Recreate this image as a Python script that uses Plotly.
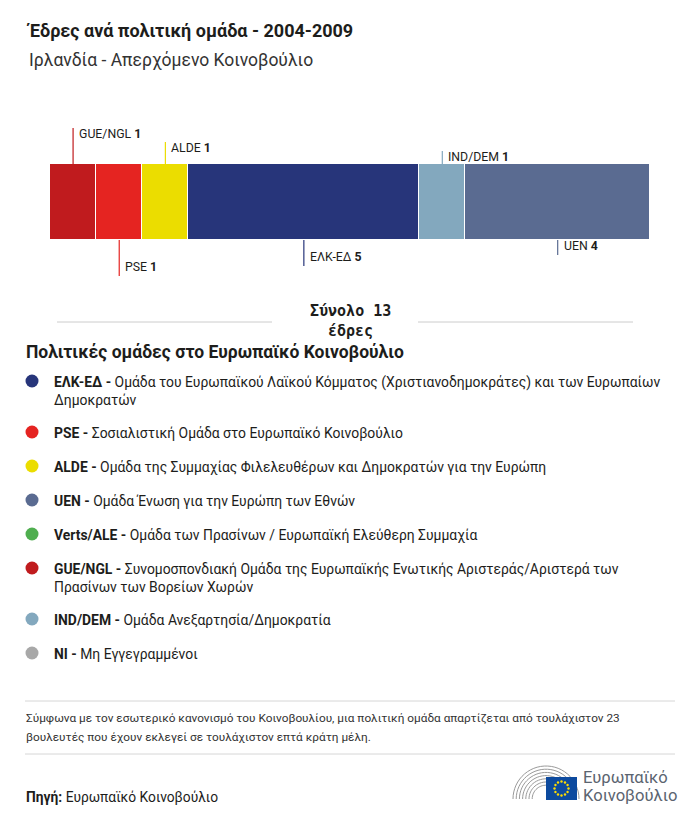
import numpy as np
import plotly.graph_objects as go

# ---------------- data ----------------
groups = ["GUE/NGL", "PSE", "ALDE", "ΕΛΚ-ΕΔ", "IND/DEM", "UEN"]
seats = [1, 1, 1, 5, 1, 4]
group_colors = ["#C01B1E", "#E52421", "#EBDD00", "#27357A", "#83A8BE", "#5A6B91"]

legend_codes = ["ΕΛΚ-ΕΔ", "PSE", "ALDE", "UEN", "Verts/ALE", "GUE/NGL", "IND/DEM", "NI"]
legend_desc = [
    "Ομάδα του Ευρωπαϊκού Λαϊκού Κόμματος (Χριστιανοδημοκράτες) και των Ευρωπαίων<br>Δημοκρατών",
    "Σοσιαλιστική Ομάδα στο Ευρωπαϊκό Κοινοβούλιο",
    "Ομάδα της Συμμαχίας Φιλελευθέρων και Δημοκρατών για την Ευρώπη",
    "Ομάδα Ένωση για την Ευρώπη των Εθνών",
    "Ομάδα των Πρασίνων / Ευρωπαϊκή Ελεύθερη Συμμαχία",
    "Συνομοσπονδιακή Ομάδα της Ευρωπαϊκής Ενωτικής Αριστεράς/Αριστερά των<br>Πρασίνων των Βορείων Χωρών",
    "Ομάδα Ανεξαρτησία/Δημοκρατία",
    "Μη Εγγεγραμμένοι",
]
legend_colors = ["#27357A", "#E52421", "#EBDD00", "#5A6B91", "#4FAE4F", "#C01B1E", "#83A8BE", "#A8A8A8"]

title = "Έδρες ανά πολιτική ομάδα - 2004-2009"
subtitle = "Ιρλανδία - Απερχόμενο Κοινοβούλιο"
total_label = "Σύνολο"
total_unit = "έδρες"
legend_title = "Πολιτικές ομάδες στο Ευρωπαϊκό Κοινοβούλιο"
note_lines = ["Σύμφωνα με τον εσωτερικό κανονισμό του Κοινοβουλίου, μια πολιτική ομάδα απαρτίζεται από τουλάχιστον 23",
              "βουλευτές που έχουν εκλεγεί σε τουλάχιστον επτά κράτη μέλη."]
source_label = "Πηγή:"
source_text = "Ευρωπαϊκό Κοινοβούλιο"
logo_text = ["Ευρωπαϊκό", "Κοινοβούλιο"]

# ---------------- style ----------------
W, H = 700, 822
FONT = "Roboto"
DARK = "#1d1d1b"
# leader line: side (+1 above, -1 below) and length in px
label_side = [1, -1, 1, -1, 1, -1]
label_len = [36, 36, 22, 26, 13, 15]
BAR_TOP, BAR_BOT = 164, 240

fig = go.Figure()

total = int(np.sum(seats))
cum = np.cumsum([0] + seats)
mids = (cum[:-1] + cum[1:]) / 2.0

for g, s, c in zip(groups, seats, group_colors):
    fig.add_trace(go.Bar(
        x=[s], y=[0], orientation="h", name=g, width=1,
        marker=dict(color=c, line=dict(color="white", width=1)),
        xaxis="x", yaxis="y", hoverinfo="skip", showlegend=False,
    ))

shapes = []
annotations = []

# leader lines and labels
for g, s, c, m, side, ln in zip(groups, seats, group_colors, mids, label_side, label_len):
    if side > 0:
        y0, y1 = BAR_TOP, BAR_TOP - ln
        ty = y1 + 6
    else:
        y0, y1 = BAR_BOT, BAR_BOT + ln
        ty = y1 - 9
    shapes.append(dict(type="line", xref="x", yref="y2", x0=m, x1=m, y0=y0, y1=y1,
                       line=dict(color=c, width=1.2)))
    annotations.append(dict(xref="x", yref="y2", x=m, y=ty, xshift=4, xanchor="left", yanchor="middle",
                            text=f"{g} <b>{s}</b>", showarrow=False,
                            font=dict(family=FONT, size=12.3, color=DARK)))

# titles
annotations.append(dict(xref="x2", yref="y2", x=24, y=30, xanchor="left", yanchor="middle",
                        text=f"<b>{title}</b>", showarrow=False,
                        font=dict(family=FONT, size=18, color=DARK)))
annotations.append(dict(xref="x2", yref="y2", x=27, y=60, xanchor="left", yanchor="middle",
                        text=subtitle, showarrow=False,
                        font=dict(family=FONT, size=17.5, color="#333333")))

# total
shapes.append(dict(type="line", xref="x2", yref="y2", x0=57, x1=272, y0=322, y1=322,
                   line=dict(color="#cccccc", width=1)))
shapes.append(dict(type="line", xref="x2", yref="y2", x0=418, x1=633, y0=322, y1=322,
                   line=dict(color="#cccccc", width=1)))
annotations.append(dict(xref="x2", yref="y2", x=350, y=311, xanchor="center", yanchor="middle",
                        text=f"<b>{total_label} {total}</b>", showarrow=False,
                        font=dict(family="DejaVu Sans Mono", size=15, color=DARK)))
annotations.append(dict(xref="x2", yref="y2", x=350, y=331, xanchor="center", yanchor="middle",
                        text=f"<b>{total_unit}</b>", showarrow=False,
                        font=dict(family="DejaVu Sans Mono", size=15, color=DARK)))

# legend
annotations.append(dict(xref="x2", yref="y2", x=24, y=352, xanchor="left", yanchor="middle",
                        text=f"<b>{legend_title}</b>", showarrow=False,
                        font=dict(family=FONT, size=17.5, color=DARK)))
ly = []
y = 381
for d in legend_desc:
    ly.append(y)
    y += 34 + 17 * d.count("<br>")
fig.add_trace(go.Scatter(
    x=[32] * len(legend_codes), y=ly, mode="markers", xaxis="x2", yaxis="y2",
    marker=dict(size=13, color=legend_colors), hoverinfo="skip", showlegend=False,
))
for code, d, yy in zip(legend_codes, legend_desc, ly):
    annotations.append(dict(xref="x2", yref="y2", x=52, y=yy - 9.5, xanchor="left", yanchor="top",
                            align="left", text=f"<b>{code} -</b> {d}", showarrow=False,
                            font=dict(family=FONT, size=13.9, color=DARK)))

# footer
shapes.append(dict(type="line", xref="x2", yref="y2", x0=25, x1=675, y0=701, y1=701,
                   line=dict(color="#d6d6d6", width=1)))
shapes.append(dict(type="line", xref="x2", yref="y2", x0=25, x1=675, y0=754, y1=754,
                   line=dict(color="#d6d6d6", width=1)))
for i, line in enumerate(note_lines):
    annotations.append(dict(xref="x2", yref="y2", x=24, y=718 + 19 * i, xanchor="left", yanchor="middle",
                            align="left", text=line, showarrow=False,
                            font=dict(family=FONT, size=11.8, color="#333333")))
annotations.append(dict(xref="x2", yref="y2", x=24, y=797, xanchor="left", yanchor="middle",
                        text=f"<b>{source_label}</b> {source_text}", showarrow=False,
                        font=dict(family=FONT, size=13.8, color=DARK)))

# logo: hemicycle arcs
cx, cy = 546, 799
for i in range(7):
    r = 33 - i * 3.2
    t = np.linspace(np.pi, 0, 30)
    pts = [(cx + r * np.cos(a), cy - r * np.sin(a)) for a in t]
    path = "M " + " L ".join(f"{px:.2f},{py:.2f}" for px, py in pts)
    shapes.append(dict(type="path", xref="x2", yref="y2", path=path, layer="below",
                       line=dict(color="#9a9a9a", width=1)))
shapes.append(dict(type="rect", xref="x2", yref="y2", x0=546, x1=577, y0=777, y1=800,
                   fillcolor="#0d4a9e", line=dict(width=0), layer="below"))
ang = np.linspace(0, 2 * np.pi, 13)[:-1]
fig.add_trace(go.Scatter(
    x=561.5 + 7 * np.cos(ang), y=788.5 + 7 * np.sin(ang), mode="markers",
    xaxis="x2", yaxis="y2", marker=dict(size=2.4, color="#ffdd00"),
    hoverinfo="skip", showlegend=False,
))
for i, t in enumerate(logo_text):
    annotations.append(dict(xref="x2", yref="y2", x=581, y=777 + 18.5 * i, xanchor="left", yanchor="middle",
                            text=t, showarrow=False,
                            font=dict(family=FONT, size=16.6, color="#5b6470")))

fig.update_layout(
    width=W, height=H, margin=dict(l=0, r=0, t=0, b=0),
    paper_bgcolor="white", plot_bgcolor="rgba(0,0,0,0)",
    barmode="stack", bargap=0,
    xaxis=dict(domain=[50 / W, 650 / W], range=[0, total], visible=False, fixedrange=True),
    yaxis=dict(domain=[1 - BAR_BOT / H, 1 - BAR_TOP / H], range=[-0.5, 0.5], visible=False, fixedrange=True),
    xaxis2=dict(domain=[0, 1], range=[0, W], visible=False, fixedrange=True, anchor="y2"),
    yaxis2=dict(domain=[0, 1], range=[H, 0], visible=False, fixedrange=True, anchor="x2"),
    shapes=shapes, annotations=annotations,
)

fig.write_html("out.html", config={"displayModeBar": False},
               post_script="document.body.style.margin='0';document.body.style.overflow='hidden';")
